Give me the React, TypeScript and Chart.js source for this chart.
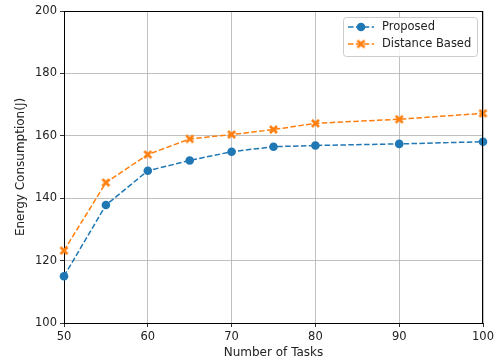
import React, { useEffect, useRef } from "react";
import { Chart, registerables } from "chart.js";

Chart.register(...registerables);

const xValues = [50, 55, 60, 65, 70, 75, 80, 90, 100];
const proposed = [115, 137.8, 148.8, 152.1, 154.9, 156.5, 156.9, 157.4, 158.1];
const distanceBased = [123.2, 145, 154, 159, 160.4, 162, 164, 165.3, 167.2];
const seriesNames = ["Proposed", "Distance Based"];
const xTitle = "Number of Tasks";
const yTitle = "Energy Consumption(J)";

const BLUE = "#1f77b4";
const ORANGE = "#ff7f0e";
const FONT = "'DejaVu Sans', sans-serif";

function makeX(color: string): HTMLCanvasElement {
  const c = document.createElement("canvas");
  c.width = 11;
  c.height = 11;
  const ctx = c.getContext("2d")!;
  ctx.strokeStyle = color;
  ctx.lineWidth = 2.6;
  ctx.lineCap = "butt";
  ctx.beginPath();
  ctx.moveTo(2, 2);
  ctx.lineTo(9, 9);
  ctx.moveTo(9, 2);
  ctx.lineTo(2, 9);
  ctx.stroke();
  return c;
}

export default function App() {
  const ref = useRef<HTMLCanvasElement>(null);
  useEffect(() => {
    const xMarker = makeX(ORANGE);
    const framePlugin = {
      id: "frame",
      afterDraw(chart: any) {
        const { ctx, chartArea: a } = chart;
        ctx.save();
        ctx.strokeStyle = "#000";
        ctx.lineWidth = 1;
        ctx.beginPath();
        ctx.moveTo(a.left, a.top + 0.5);
        ctx.lineTo(a.right, a.top + 0.5);
        ctx.moveTo(a.right - 0.5, a.top);
        ctx.lineTo(a.right - 0.5, a.bottom);
        ctx.stroke();
        // legend
        const lx = 343, ly = 17, lw = 134, lh = 39;
        ctx.fillStyle = "rgba(255,255,255,0.85)";
        ctx.strokeStyle = "#cccccc";
        ctx.lineWidth = 1;
        ctx.beginPath();
        (ctx as any).roundRect(lx + 0.5, ly + 0.5, lw, lh, 3);
        ctx.fill();
        ctx.stroke();
        const rows = [
          { y: 27, color: BLUE, name: seriesNames[0], marker: "circle" },
          { y: 44, color: ORANGE, name: seriesNames[1], marker: "x" },
        ];
        for (const r of rows) {
          ctx.strokeStyle = r.color;
          ctx.lineWidth = 1.5;
          ctx.setLineDash([5.5, 2.4]);
          ctx.beginPath();
          ctx.moveTo(348, r.y);
          ctx.lineTo(374, r.y);
          ctx.stroke();
          ctx.setLineDash([]);
          if (r.marker === "circle") {
            ctx.fillStyle = r.color;
            ctx.beginPath();
            ctx.arc(361, r.y, 4.3, 0, Math.PI * 2);
            ctx.fill();
          } else {
            ctx.drawImage(xMarker, 361 - 5.5, r.y - 5.5);
          }
          ctx.fillStyle = "#222";
          ctx.font = `11.5px ${FONT}`;
          ctx.textBaseline = "middle";
          ctx.textAlign = "left";
          ctx.fillText(r.name, 382, r.y + 0.5);
        }
        ctx.restore();
      },
    };
    const chart = new Chart(ref.current!, {
      type: "line",
      data: {
        datasets: [
          {
            label: seriesNames[0],
            data: xValues.map((x, i) => ({ x, y: proposed[i] })),
            borderColor: BLUE,
            backgroundColor: BLUE,
            borderWidth: 1.5,
            borderDash: [5.5, 2.4],
            pointStyle: "circle",
            pointRadius: 4.3,
            pointBorderWidth: 0,
            tension: 0,
          },
          {
            label: seriesNames[1],
            data: xValues.map((x, i) => ({ x, y: distanceBased[i] })),
            borderColor: ORANGE,
            backgroundColor: ORANGE,
            borderWidth: 1.5,
            borderDash: [5.5, 2.4],
            pointStyle: xMarker as any,
            pointRadius: 5,
            tension: 0,
          },
        ],
      },
      options: {
        animation: false,
        responsive: false,
        clip: false as any,
        layout: { padding: { left: 0, right: 14, top: 11, bottom: 0 } },
        plugins: { legend: { display: false }, tooltip: { enabled: false } },
        scales: {
          x: {
            type: "linear",
            min: 50,
            max: 100,
            afterFit: (s: any) => {
              s.height = 38;
            },
            ticks: { stepSize: 10, color: "#222", font: { family: FONT, size: 11.5 }, padding: 3, maxRotation: 0 },
            grid: { color: "#b0b0b0", lineWidth: 0.8, tickColor: "#000", tickLength: 4 },
            border: { color: "#000", width: 1 },
            title: { display: true, text: xTitle, color: "#222", font: { family: FONT, size: 12 }, padding: { top: 0, bottom: 1 } },
          },
          y: {
            min: 100,
            max: 200,
            afterFit: (s: any) => {
              s.width = 64;
            },
            ticks: { stepSize: 20, color: "#222", font: { family: FONT, size: 11.5 }, padding: 3 },
            grid: { color: "#b0b0b0", lineWidth: 0.8, tickColor: "#000", tickLength: 4 },
            border: { color: "#000", width: 1 },
            title: { display: true, text: yTitle, color: "#222", font: { family: FONT, size: 12 }, padding: { top: 14, bottom: 0 } },
          },
        },
      },
      plugins: [framePlugin],
    });
    return () => chart.destroy();
  }, []);
  return (
    <div style={{ position: "fixed", left: 0, top: 0, width: 497, height: 361, background: "#fff" }}>
      <canvas ref={ref} width={497} height={361} style={{ display: "block" }} />
    </div>
  );
}
